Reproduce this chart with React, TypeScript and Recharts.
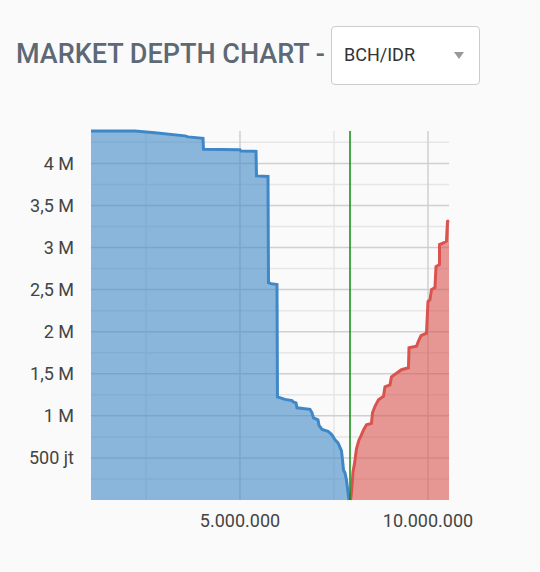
import React from "react";
import { ComposedChart, Area, XAxis, YAxis, CartesianGrid, ReferenceLine } from "recharts";

// bids (price, cumulative volume), left to right
const bidPrices = [
  1037000, 2207000, 2739000, 3537000, 3617000, 4016000, 4029000, 5000000, 5027000, 5426000,
  5439000, 5745000, 5758000, 5824000, 5984000, 5997000, 6197000, 6383000, 6410000, 6489000,
  6516000, 6862000, 6915000, 6955000, 7074000, 7101000, 7181000, 7340000, 7420000, 7473000,
  7527000, 7606000, 7660000, 7699000, 7726000, 7753000, 7793000, 7832000, 7872000, 7899000,
];
const bidVolumes = [
  4385000, 4385000, 4363000, 4327000, 4315000, 4298000, 4167000, 4161000, 4146000, 4143000,
  3851000, 3845000, 2583000, 2571000, 2560000, 1226000, 1196000, 1182000, 1167000, 1155000,
  1095000, 1077000, 1036000, 976000, 952000, 887000, 839000, 815000, 786000, 756000,
  714000, 679000, 625000, 583000, 476000, 357000, 321000, 238000, 95000, 0,
];

// asks (price, cumulative volume)
const askPrices = [
  7939000, 7965000, 8005000, 8045000, 8098000, 8165000, 8218000, 8285000, 8364000, 8497000,
  8524000, 8590000, 8684000, 8817000, 8856000, 8989000, 9029000, 9162000, 9295000, 9481000,
  9495000, 9694000, 9747000, 9814000, 9960000, 10000000, 10053000, 10093000, 10186000, 10213000,
  10306000, 10306500, 10412000, 10492000, 10519000, 10559000,
];
const askVolumes = [
  0, 83000, 333000, 429000, 607000, 714000, 762000, 833000, 893000, 911000,
  1036000, 1113000, 1190000, 1232000, 1345000, 1369000, 1464000, 1506000, 1548000, 1571000,
  1810000, 1827000, 1887000, 1952000, 1982000, 2357000, 2381000, 2500000, 2524000, 2774000,
  2798000, 3036000, 3054000, 3077000, 3310000, 3321000,
];

const midPrice = 7926000;

const yTicks = [500000, 1000000, 1500000, 2000000, 2500000, 3000000, 3500000, 4000000];
const yMinor = [250000, 750000, 1250000, 1750000, 2250000, 2750000, 3250000, 3750000, 4250000];
const xTicks = [5000000, 10000000];
const xMinor = [2500000, 7500000];

const data = [
  ...bidPrices.map((p, i) => ({ price: p, bid: bidVolumes[i], ask: null as number | null })),
  ...askPrices.map((p, i) => ({ price: p, bid: null as number | null, ask: askVolumes[i] })),
];

const fmtY = (v: number) => {
  if (v >= 1000000) return String(v / 1000000).replace(".", ",") + " M";
  return v / 1000 + " jt";
};
const fmtX = (v: number) => String(v).replace(/\B(?=(\d{3})+(?!\d))/g, ".");

const tickStyle = { fontSize: 18, fill: "#444", fontFamily: "Roboto" };

export default function App() {
  return (
    <div style={{ position: "absolute", left: 0, top: 0, width: 540, height: 572, background: "#fafafa", fontFamily: "Roboto" }}>
      <div style={{ position: "absolute", left: 16, top: 38, fontSize: 27, fontWeight: 500, color: "#5d6975", whiteSpace: "nowrap" }}>
        MARKET DEPTH CHART -
      </div>
      <div style={{ position: "absolute", left: 331, top: 26, width: 147, height: 57, background: "#fff", border: "1px solid #ccc", borderRadius: 4 }}>
        <span style={{ position: "absolute", left: 12, top: 17, fontSize: 18, color: "#333" }}>BCH/IDR</span>
        <span style={{ position: "absolute", left: 122, top: 25, width: 0, height: 0, borderLeft: "5px solid transparent", borderRight: "5px solid transparent", borderTop: "7px solid #999" }} />
      </div>
      <div style={{ position: "absolute", left: 0, top: 0 }}>
        <ComposedChart width={540} height={572} data={data} margin={{ top: 131, right: 91, bottom: 42, left: 16 }}>
          <CartesianGrid stroke="#e6e6e6" strokeWidth={1.5} horizontalValues={yMinor} verticalValues={xMinor} />
          <CartesianGrid stroke="#d0d0d0" strokeWidth={1.5} horizontalValues={yTicks} verticalValues={xTicks} />
          <XAxis
            dataKey="price"
            type="number"
            domain={["dataMin", "dataMax"]}
            ticks={xTicks}
            tickFormatter={fmtX}
            axisLine={false}
            tickLine={false}
            tickSize={6}
            tickMargin={8}
            height={30}
            tick={tickStyle}
          />
          <YAxis
            type="number"
            domain={[0, "dataMax"]}
            ticks={yTicks}
            tickFormatter={fmtY}
            axisLine={false}
            tickLine={false}
            tickSize={6}
            tickMargin={11}
            width={75}
            tick={tickStyle}
          />
          <Area
            type="linear"
            dataKey="bid"
            stroke="#3f88c8"
            strokeWidth={3}
            fill="#3f88c8"
            fillOpacity={0.6}
            isAnimationActive={false}
            dot={false}
            activeDot={false}
          />
          <Area
            type="linear"
            dataKey="ask"
            stroke="#d9534f"
            strokeWidth={3}
            fill="#d9534f"
            fillOpacity={0.6}
            isAnimationActive={false}
            dot={false}
            activeDot={false}
          />
          <ReferenceLine x={midPrice} stroke="#0f8a0f" strokeWidth={1.5} />
        </ComposedChart>
      </div>
    </div>
  );
}
